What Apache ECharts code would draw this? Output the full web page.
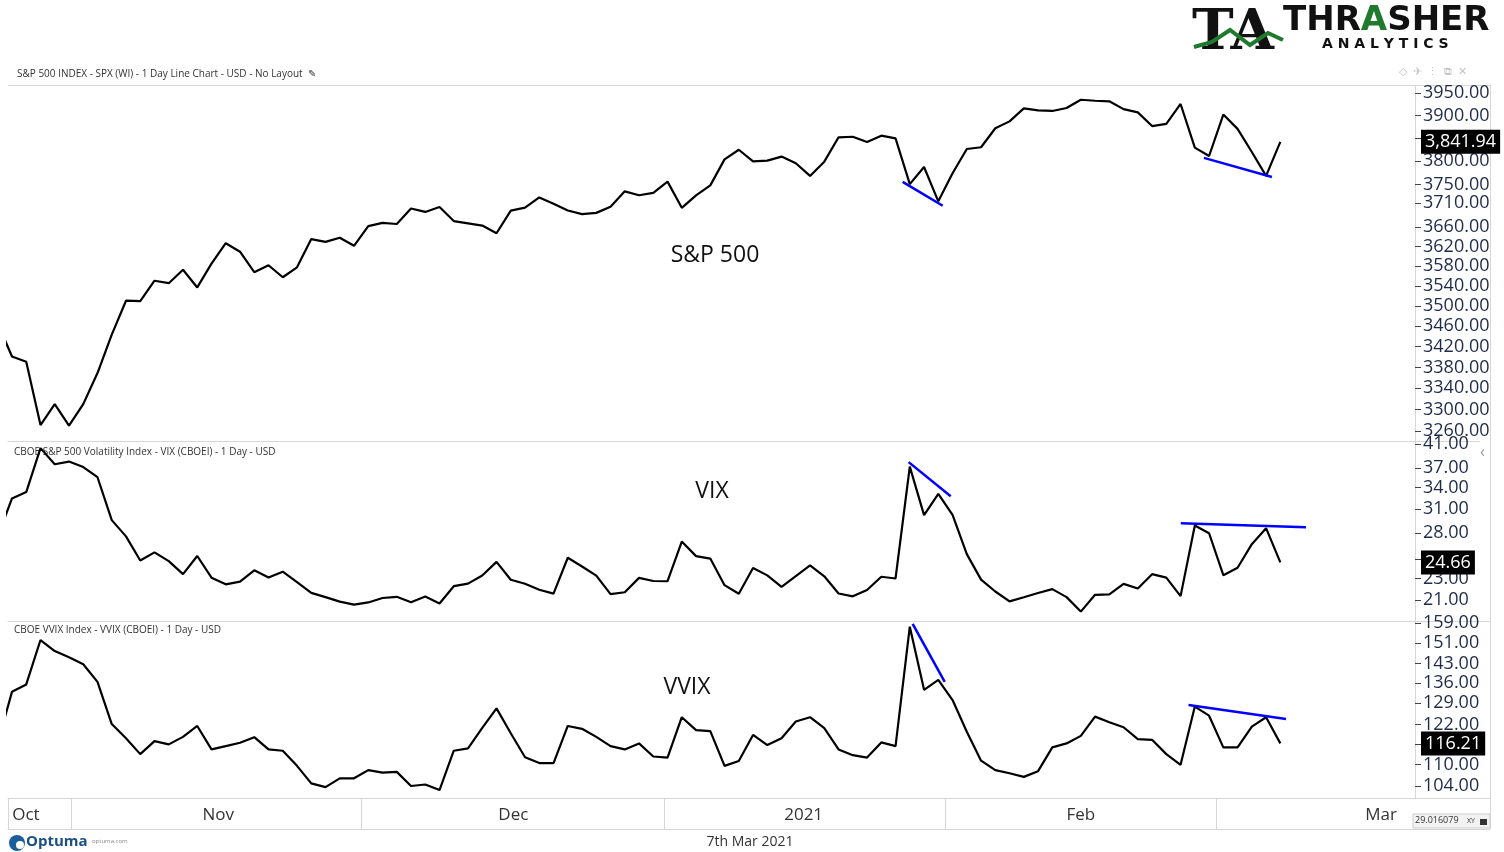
<!DOCTYPE html>
<html>
<head>
<meta charset="utf-8">
<script src="https://cdn.jsdelivr.net/npm/echarts@6/dist/echarts.min.js"></script>
<style>
  html, body { margin: 0; background: #fff; }
  #chart { width: 1504px; height: 852px; }
</style>
</head>
<body>
<div id="chart"></div>
<script>
// trading days, index 0 = 23 Oct 2020 (only its segment shows, clipped at the left edge)
const DAYS = [
  '10-23', '10-26', '10-27', '10-28', '10-29', '10-30',
  '11-02', '11-03', '11-04', '11-05', '11-06', '11-09', '11-10', '11-11', '11-12', '11-13',
  '11-16', '11-17', '11-18', '11-19', '11-20', '11-23', '11-24', '11-25', '11-27', '11-30',
  '12-01', '12-02', '12-03', '12-04', '12-07', '12-08', '12-09', '12-10', '12-11', '12-14',
  '12-15', '12-16', '12-17', '12-18', '12-21', '12-22', '12-23', '12-24', '12-28', '12-29',
  '12-30', '12-31', '01-04', '01-05', '01-06', '01-07', '01-08', '01-11', '01-12', '01-13',
  '01-14', '01-15', '01-19', '01-20', '01-21', '01-22', '01-25', '01-26', '01-27', '01-28',
  '01-29', '02-01', '02-02', '02-03', '02-04', '02-05', '02-08', '02-09', '02-10', '02-11',
  '02-12', '02-16', '02-17', '02-18', '02-19', '02-22', '02-23', '02-24', '02-25', '02-26',
  '03-01', '03-02', '03-03', '03-04', '03-05',
];

const SPX = [
  3465.39, 3400.97, 3390.68, 3271.03, 3310.11, 3269.96,
  3310.24, 3369.16, 3443.44, 3510.45, 3509.44, 3550.50, 3545.53, 3572.66, 3537.01, 3585.15,
  3626.91, 3609.53, 3567.79, 3581.87, 3557.54, 3577.59, 3635.41, 3629.65, 3638.35, 3621.63,
  3662.45, 3669.01, 3666.72, 3699.12, 3691.96, 3702.25, 3672.82, 3668.10, 3663.46, 3647.49,
  3694.62, 3701.17, 3722.48, 3709.41, 3694.92, 3687.26, 3690.01, 3703.06, 3735.36, 3727.04,
  3732.04, 3756.07, 3700.65, 3726.86, 3748.14, 3803.79, 3824.68, 3799.61, 3801.19, 3809.84,
  3795.54, 3768.25, 3798.91, 3851.85, 3853.07, 3841.47, 3855.36, 3849.62, 3750.77, 3787.38,
  3714.24, 3773.86, 3826.31, 3830.17, 3871.74, 3886.83, 3915.59, 3911.23, 3909.88, 3916.38,
  3934.83, 3932.59, 3931.33, 3913.97, 3906.71, 3876.50, 3881.37, 3925.43, 3829.34, 3811.15,
  3901.82, 3870.29, 3819.72, 3768.47, 3841.94,
];

const VIX = [
  27.55, 32.46, 33.35, 40.28, 37.59, 38.02,
  37.13, 35.55, 29.57, 27.58, 24.86, 25.75, 24.80, 23.45, 25.35, 23.10,
  22.45, 22.71, 23.84, 23.11, 23.70, 22.66, 21.64, 21.25, 20.84, 20.57,
  20.77, 21.17, 21.28, 20.79, 21.30, 20.68, 22.27, 22.52, 23.31, 24.72,
  22.89, 22.50, 21.93, 21.57, 25.16, 24.23, 23.31, 21.53, 21.70, 23.08,
  22.77, 22.75, 26.97, 25.34, 25.07, 22.37, 21.56, 24.08, 23.33, 22.21,
  23.25, 24.34, 23.24, 21.58, 21.32, 21.91, 23.19, 23.02, 37.21, 30.21,
  33.09, 30.24, 25.56, 22.91, 21.77, 20.87, 21.24, 21.63, 21.99, 21.25,
  19.97, 21.46, 21.50, 22.49, 22.05, 23.45, 23.11, 21.34, 28.89, 27.95,
  23.35, 24.10, 26.67, 28.57, 24.66,
];

const VVIX = [
  116.4, 132.9, 135.5, 152.1, 147.8, 145.4,
  142.8, 136.4, 122.2, 117.8, 113.0, 116.9, 115.9, 118.2, 121.6, 114.4,
  115.4, 116.4, 118.1, 114.4, 114.0, 109.6, 104.7, 103.7, 106.1, 106.1,
  108.4, 107.7, 107.9, 104.0, 104.4, 102.9, 114.0, 114.7, 121.0, 127.3,
  119.3, 112.1, 110.4, 110.4, 121.6, 120.7, 118.2, 115.4, 114.4, 116.2,
  112.3, 112.0, 124.4, 120.3, 120.0, 109.6, 111.0, 118.8, 115.7, 117.8,
  123.0, 124.4, 120.9, 114.4, 112.7, 112.0, 116.5, 115.4, 157.5, 133.6,
  137.1, 130.1, 119.8, 111.1, 108.4, 107.5, 106.5, 108.1, 115.0, 116.2,
  118.5, 124.6, 122.8, 121.2, 117.5, 117.3, 113.0, 109.9, 127.9, 124.9,
  115.0, 115.0, 121.4, 124.4, 116.21,
];

// hand-drawn blue trendlines: [dayIndex, value] end points
const SPX_TRENDS = [
  [[63.5, 3755.6], [66.31, 3705.0]],
  [[84.64, 3807.0], [89.41, 3766.0]],
];
const VIX_TRENDS = [
  [[63.92, 37.93], [66.87, 32.76]],
  [[83.02, 29.17], [91.8, 28.68]],
];
const VVIX_TRENDS = [
  [[64.2, 158.6], [66.45, 136.4]],
  [[83.56, 128.4], [90.4, 123.8]],
];

// price scale ticks (log scales)
const SPX_TICKS = [3950, 3900, 3850, 3800, 3750, 3710, 3660, 3620, 3580, 3540, 3500, 3460, 3420, 3380, 3340, 3300, 3260];
const VIX_TICKS = [41, 37, 34, 31, 28, 25, 23, 21];
const VVIX_TICKS = [159, 151, 143, 136, 129, 122, 116, 110, 104];

// date band
const MONTH_BREAKS = [0.72, 5.19, 25.51, 46.74, 66.52, 85.48];
const MONTH_LABEL_AT = [1.98, 15.47, 36.18, 56.55, 76.0, 97.07];
const MONTH_NAMES = ['Oct', 'Nov', 'Dec', '2021', 'Feb', 'Mar'];

const X_MIN = 0.72;
const X_MAX = 99.45;
const FONT = '"Open Sans", "Noto Sans", sans-serif';
const AXIS_GREY = '#d6d6d6';

const chart = echarts.init(document.getElementById('chart'), null, { renderer: 'canvas' });

const pane = (grid) => ({
  type: 'value',
  gridIndex: grid,
  min: X_MIN,
  max: X_MAX,
  axisLine: { show: true, lineStyle: { color: AXIS_GREY, width: 1 } },
  axisTick: { show: false },
  axisLabel: { show: false },
  splitLine: { show: false },
});

const priceAxis = (grid, min, max, ticks) => ({
  type: 'log',
  logBase: 10,
  gridIndex: grid,
  position: 'right',
  min,
  max,
  axisLine: { show: true, lineStyle: { color: AXIS_GREY, width: 1 } },
  axisTick: { show: true, customValues: ticks, length: 6, lineStyle: { color: '#444', width: 1 } },
  axisLabel: {
    show: true,
    customValues: ticks,
    margin: 8,
    color: '#1e2b48',
    fontSize: 18,
    fontFamily: FONT,
    formatter: (v) => Number(v).toFixed(2),
  },
  splitLine: { show: false },
});

// black readout box with the last value, sitting on the price scale
const lastTag = (val, text) => ({
  silent: true,
  symbol: ['none', 'none'],
  lineStyle: { color: 'transparent', width: 1, type: 'solid' },
  label: {
    show: true,
    position: 'end',
    distance: 6,
    formatter: text,
    color: '#fff',
    backgroundColor: '#000',
    padding: [3, 4, 3, 4],
    lineHeight: 18,
    fontSize: 18,
    fontFamily: FONT,
  },
  emphasis: { disabled: true },
  data: [{ yAxis: val }],
});

const mainLine = (grid, values, tag) => ({
  type: 'line',
  xAxisIndex: grid,
  yAxisIndex: grid,
  data: values.map((v, i) => [i, v]),
  showSymbol: false,
  lineStyle: { color: '#000', width: 2.2 },
  itemStyle: { color: '#000' },
  markLine: lastTag(values[values.length - 1], tag),
  z: 3,
});

const trendLines = (grid, trends) => trends.map((t) => ({
  type: 'line',
  xAxisIndex: grid,
  yAxisIndex: grid,
  data: t,
  showSymbol: false,
  lineStyle: { color: '#0000ff', width: 2.5 },
  z: 4,
}));

const txt = (x, y, text, size, extra) => ({
  type: 'text',
  x, y,
  style: Object.assign({ text, fontSize: size, fontFamily: FONT, fill: '#333' }, extra || {}),
});

const hline = (x1, x2, y, color) => ({
  type: 'line',
  shape: { x1, y1: y, x2, y2: y },
  style: { stroke: color || AXIS_GREY, lineWidth: 1 },
});

chart.setOption({
  animation: false,
  backgroundColor: '#fff',
  grid: [
    { left: 8, right: 89, top: 86, height: 355 },
    { left: 8, right: 89, top: 441, height: 180 },
    { left: 8, right: 89, top: 621, height: 177 },
    { left: 8, right: 89, top: 798, height: 31 },
  ],
  xAxis: [
    pane(0),
    pane(1),
    pane(2),
    {
      type: 'value',
      gridIndex: 3,
      min: X_MIN,
      max: X_MAX,
      axisLine: { show: true, lineStyle: { color: AXIS_GREY, width: 1 } },
      axisTick: { show: true, inside: true, length: 31, customValues: MONTH_BREAKS, lineStyle: { color: AXIS_GREY, width: 1 } },
      axisLabel: {
        show: true,
        inside: true,
        margin: 5,
        customValues: MONTH_LABEL_AT,
        color: '#333',
        fontSize: 17,
        fontFamily: FONT,
        formatter: (v) => MONTH_NAMES[MONTH_LABEL_AT.indexOf(v)] || '',
      },
      splitLine: { show: false },
    },
  ],
  yAxis: [
    priceAxis(0, 3241.6, 3965.7, SPX_TICKS),
    priceAxis(1, 19.18, 41.53, VIX_TICKS),
    priceAxis(2, 100.8, 159.83, VVIX_TICKS),
    { type: 'value', gridIndex: 3, show: false, min: 0, max: 1 },
  ],
  series: [
    mainLine(0, SPX, '3,841.94'),
    mainLine(1, VIX, VIX[VIX.length - 1].toFixed(2)),
    mainLine(2, VVIX, VVIX[VVIX.length - 1].toFixed(2)),
    ...trendLines(0, SPX_TRENDS),
    ...trendLines(1, VIX_TRENDS),
    ...trendLines(2, VVIX_TRENDS),
  ],
  graphic: [
    hline(8, 1490, 85.5),
    { type: 'line', shape: { x1: 1490.5, y1: 85, x2: 1490.5, y2: 829 }, style: { stroke: AXIS_GREY, lineWidth: 1 } },
    hline(1415, 1490, 829.5),
    hline(1415, 1480, 441.5),
    hline(1415, 1490, 621.5),
    hline(1415, 1490, 798.5),

    // headers
    txt(17, 69, 'S&P 500 INDEX - SPX (WI) - 1 Day Line Chart - USD - No Layout  \u270E', 10),
    txt(14, 447, 'CBOE S&P 500 Volatility Index - VIX (CBOEI) - 1 Day - USD', 10),
    txt(14, 625, 'CBOE VVIX Index - VVIX (CBOEI) - 1 Day - USD', 10),
    txt(1399, 66, '\u25C7  \u2708  \u22EE  \u29C9  \u2715', 11, { fill: '#c4c4c4' }),
    txt(1480, 444, '\u2039', 16, { fill: '#999' }),

    // pane names
    txt(715, 255, 'S&P 500', 23, { fill: '#111', align: 'center', verticalAlign: 'middle' }),
    txt(712, 491, 'VIX', 23, { fill: '#111', align: 'center', verticalAlign: 'middle' }),
    txt(687, 687, 'VVIX', 23, { fill: '#111', align: 'center', verticalAlign: 'middle' }),

    // bottom right readout
    { type: 'rect', shape: { x: 1413, y: 814, width: 77, height: 14 }, style: { fill: '#f2f2f2', stroke: '#ccc' } },
    txt(1415, 816, '29.016079', 9),
    txt(1467, 817, 'XY', 7),
    { type: 'rect', shape: { x: 1480, y: 819, width: 7, height: 6 }, style: { fill: '#333' } },

    // footer
    { type: 'circle', shape: { cx: 17, cy: 843, r: 8 }, style: { fill: '#1b5e9b' } },
    { type: 'circle', shape: { cx: 20, cy: 845, r: 4 }, style: { fill: '#fff' } },
    txt(26, 834, 'Optuma', 15, { fill: '#1b4f84', fontWeight: 'bold' }),
    txt(92, 838, 'optuma.com', 6, { fill: '#888' }),
    txt(750, 842, '7th Mar 2021', 14, { fill: '#333', align: 'center', verticalAlign: 'middle' }),

    // logo
    txt(1192, 6, 'TA', 56, { fill: '#111', fontFamily: '"DejaVu Serif", serif', fontWeight: 'bold' }),
    {
      type: 'polyline',
      shape: { points: [[1194, 47], [1212, 42], [1230, 30], [1250, 45], [1268, 33], [1283, 40]] },
      style: { stroke: '#1f7a2e', lineWidth: 4, fill: null },
    },
    txt(1283, 4, '{a|THR}{g|A}{a|SHER}', 34, {
      rich: {
        a: { fontSize: 34, fontWeight: 'bold', fontFamily: '"DejaVu Sans", sans-serif', fill: '#111' },
        g: { fontSize: 34, fontWeight: 'bold', fontFamily: '"DejaVu Sans", sans-serif', fill: '#1f7a2e' },
      },
    }),
    txt(1322, 37, 'A N A L Y T I C S', 14, { fill: '#111', fontWeight: 'bold', fontFamily: '"DejaVu Sans", sans-serif' }),
  ],
});

window.addEventListener('resize', () => chart.resize());
</script>
</body>
</html>
